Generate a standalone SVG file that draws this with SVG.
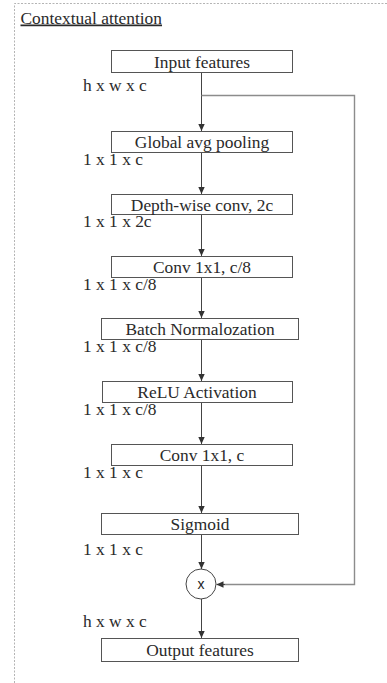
<svg xmlns="http://www.w3.org/2000/svg" width="387" height="683" viewBox="0 0 387 683">
  <style>
    .frame { fill: none; stroke: #b4b4b4; stroke-width: 1; stroke-dasharray: 2 1.5; }
    .box rect { fill: #ffffff; stroke: #555555; stroke-width: 1; }
    .box text, .dim { font-family: "Liberation Serif", "Times New Roman", serif; font-size: 17.4px; fill: #2a2a2a; }
    .box text { text-anchor: middle; }
    .title { font-family: "Liberation Serif", "Times New Roman", serif; font-size: 17.4px; fill: #2a2a2a; text-decoration: underline; }
    .flow { fill: none; stroke: #444444; stroke-width: 1; }
    .skip { fill: none; stroke: #8c8c8c; stroke-width: 1.4; }
    .mul circle { fill: #ffffff; stroke: #444444; stroke-width: 1; }
    .mul text { font-family: "Liberation Sans", Arial, sans-serif; font-size: 14px; fill: #222222; text-anchor: middle; }
  </style>
  <defs>
    <marker id="arrow" viewBox="0 0 7 7" refX="7" refY="3.5" markerWidth="7" markerHeight="7" markerUnits="userSpaceOnUse" orient="auto">
      <path d="M0,0.3 L7,3.5 L0,6.7 Z" fill="#333333"/>
    </marker>
  </defs>

  <rect width="387" height="683" fill="#ffffff"/>
  <!-- dotted frame, top and left edges only -->
  <path class="frame" d="M14.5,683 V3.5 H387"/>

  <text class="title" x="20.5" y="23.5">Contextual attention</text>

  <!-- processing blocks -->
  <g id="input" class="box"><rect x="111.5" y="50.5" width="181" height="22"/><text x="202" y="67.5">Input features</text></g>
  <g id="gap" class="box"><rect x="111.5" y="131.5" width="181" height="21"/><text x="202" y="148">Global avg pooling</text></g>
  <g id="dwconv" class="box"><rect x="111.5" y="194.5" width="181" height="20"/><text x="202" y="210.5">Depth-wise conv, 2c</text></g>
  <g id="conv1" class="box"><rect x="111.5" y="256.5" width="181" height="21"/><text x="202" y="273">Conv 1x1, c/8</text></g>
  <g id="bn" class="box"><rect x="101.5" y="318.5" width="197" height="21"/><text x="200" y="335">Batch Normalozation</text></g>
  <g id="relu" class="box"><rect x="102.5" y="381.5" width="190" height="21"/><text x="197" y="398">ReLU Activation</text></g>
  <g id="conv2" class="box"><rect x="111.5" y="444.5" width="181" height="21"/><text x="202" y="461">Conv 1x1, c</text></g>
  <g id="sigmoid" class="box"><rect x="101.5" y="513.5" width="197" height="21"/><text x="200" y="530">Sigmoid</text></g>
  <g id="multiply" class="mul"><circle cx="201" cy="584" r="15"/><text x="201" y="589">x</text></g>
  <g id="output" class="box"><rect x="101.5" y="638.5" width="197" height="23"/><text x="200" y="656">Output features</text></g>

  <!-- tensor shapes -->
  <g id="shapes">
    <text class="dim" x="83" y="91">h x w x c</text>
    <text class="dim" x="83" y="165">1 x 1 x c</text>
    <text class="dim" x="83" y="227">1 x 1 x 2c</text>
    <text class="dim" x="83" y="290">1 x 1 x c/8</text>
    <text class="dim" x="83" y="352">1 x 1 x c/8</text>
    <text class="dim" x="83" y="415">1 x 1 x c/8</text>
    <text class="dim" x="83" y="478">1 x 1 x c</text>
    <text class="dim" x="83" y="555">1 x 1 x c</text>
    <text class="dim" x="83" y="627">h x w x c</text>
  </g>

  <g id="connectors">
    <path class="flow" d="M201.5,73 V131" marker-end="url(#arrow)"/>
    <path class="flow" d="M201.5,153 V194" marker-end="url(#arrow)"/>
    <path class="flow" d="M201.5,215 V256" marker-end="url(#arrow)"/>
    <path class="flow" d="M201.5,278 V318" marker-end="url(#arrow)"/>
    <path class="flow" d="M201.5,340 V381" marker-end="url(#arrow)"/>
    <path class="flow" d="M201.5,403 V444" marker-end="url(#arrow)"/>
    <path class="flow" d="M201.5,466 V513" marker-end="url(#arrow)"/>
    <path class="flow" d="M201.5,535 V569" marker-end="url(#arrow)"/>
    <path class="flow" d="M201.5,599 V638" marker-end="url(#arrow)"/>
    <path class="skip" d="M201.5,95.5 H354.5 V584.5 H217"/>
    <path class="flow" d="M225,584.5 H216.5" stroke="none" marker-end="url(#arrow)"/>
  </g>
</svg>
